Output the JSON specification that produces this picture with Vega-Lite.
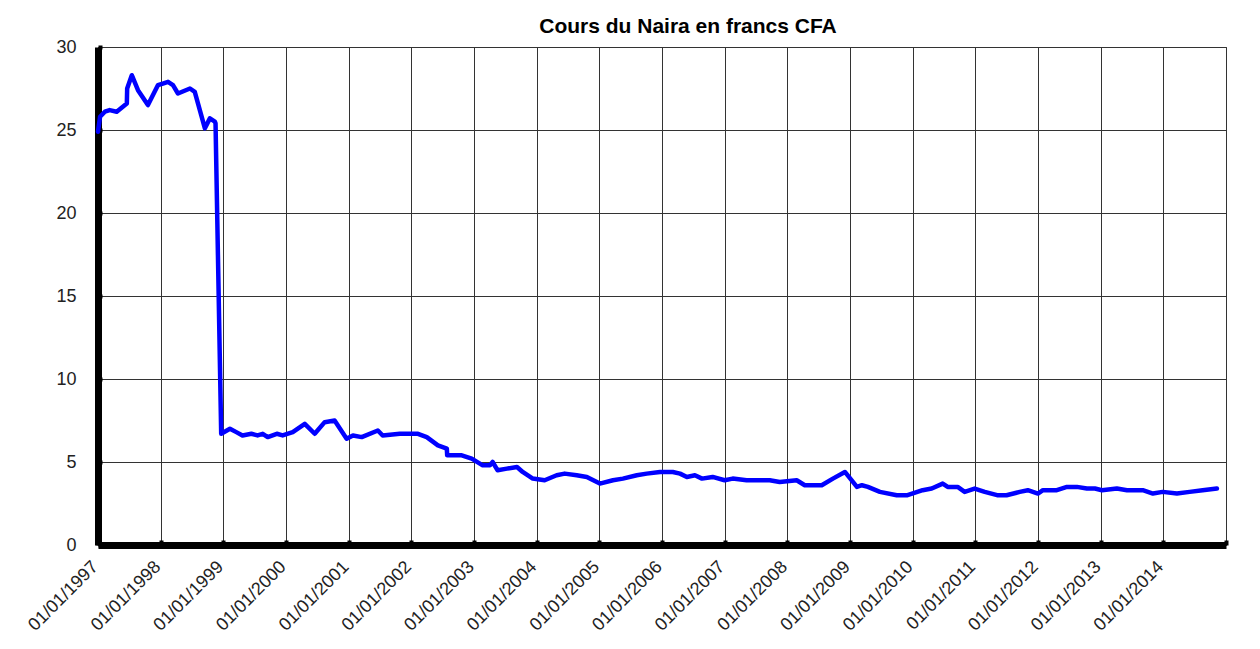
{
  "$schema": "https://vega.github.io/schema/vega-lite/v6.json",
  "autosize": "none",
  "width": 1128,
  "height": 498,
  "padding": {"left": 98, "top": 47, "right": 34, "bottom": 104},
  "background": "white",
  "title": {
    "text": "Cours du Naira en francs CFA",
    "font": "Liberation Sans",
    "fontSize": 21,
    "fontWeight": "bold",
    "color": "#000000",
    "anchor": "middle",
    "dx": 26,
    "offset": 1
  },
  "config": {
    "view": {"stroke": "#444444", "strokeWidth": 1},
    "axis": {
      "labelFont": "Liberation Sans",
      "labelColor": "#222222",
      "gridColor": "#333333",
      "gridWidth": 1,
      "gridOpacity": 1,
      "domainColor": "#000000",
      "tickColor": "#000000"
    }
  },
  "data": {
    "values": [
      {"date": "1997-01-01", "cours": 24.9},
      {"date": "1997-01-13", "cours": 25.8},
      {"date": "1997-02-10", "cours": 26.1},
      {"date": "1997-03-10", "cours": 26.2},
      {"date": "1997-04-20", "cours": 26.1},
      {"date": "1997-06-18", "cours": 26.6},
      {"date": "1997-06-20", "cours": 27.5},
      {"date": "1997-07-17", "cours": 28.3},
      {"date": "1997-08-22", "cours": 27.4},
      {"date": "1997-10-19", "cours": 26.5},
      {"date": "1997-12-16", "cours": 27.7},
      {"date": "1998-01-14", "cours": 27.8},
      {"date": "1998-02-13", "cours": 27.9},
      {"date": "1998-03-14", "cours": 27.7},
      {"date": "1998-04-12", "cours": 27.2},
      {"date": "1998-06-21", "cours": 27.5},
      {"date": "1998-07-19", "cours": 27.3},
      {"date": "1998-09-16", "cours": 25.1},
      {"date": "1998-10-15", "cours": 25.7},
      {"date": "1998-11-13", "cours": 25.5},
      {"date": "1998-11-17", "cours": 25.4},
      {"date": "1998-12-20", "cours": 6.7},
      {"date": "1999-02-09", "cours": 7.0},
      {"date": "1999-03-18", "cours": 6.8},
      {"date": "1999-04-23", "cours": 6.6},
      {"date": "1999-06-14", "cours": 6.7},
      {"date": "1999-07-20", "cours": 6.6},
      {"date": "1999-08-19", "cours": 6.7},
      {"date": "1999-09-17", "cours": 6.5},
      {"date": "1999-11-09", "cours": 6.7},
      {"date": "1999-12-13", "cours": 6.6},
      {"date": "2000-02-10", "cours": 6.8},
      {"date": "2000-04-20", "cours": 7.3},
      {"date": "2000-06-17", "cours": 6.7},
      {"date": "2000-08-14", "cours": 7.4},
      {"date": "2000-10-11", "cours": 7.5},
      {"date": "2000-12-20", "cours": 6.4},
      {"date": "2001-01-26", "cours": 6.6},
      {"date": "2001-03-18", "cours": 6.5},
      {"date": "2001-06-20", "cours": 6.9},
      {"date": "2001-07-18", "cours": 6.6},
      {"date": "2001-10-26", "cours": 6.7},
      {"date": "2002-02-09", "cours": 6.7},
      {"date": "2002-04-01", "cours": 6.5},
      {"date": "2002-06-05", "cours": 6.0},
      {"date": "2002-07-27", "cours": 5.8},
      {"date": "2002-07-29", "cours": 5.4},
      {"date": "2002-10-22", "cours": 5.4},
      {"date": "2002-12-19", "cours": 5.2},
      {"date": "2003-02-21", "cours": 4.8},
      {"date": "2003-04-04", "cours": 4.8},
      {"date": "2003-04-20", "cours": 5.0},
      {"date": "2003-05-19", "cours": 4.5},
      {"date": "2003-07-12", "cours": 4.6},
      {"date": "2003-09-09", "cours": 4.7},
      {"date": "2003-10-12", "cours": 4.4},
      {"date": "2003-12-10", "cours": 4.0},
      {"date": "2004-02-17", "cours": 3.9},
      {"date": "2004-04-27", "cours": 4.2},
      {"date": "2004-06-13", "cours": 4.3},
      {"date": "2004-08-22", "cours": 4.2},
      {"date": "2004-10-20", "cours": 4.1},
      {"date": "2005-01-04", "cours": 3.7},
      {"date": "2005-03-21", "cours": 3.9},
      {"date": "2005-05-18", "cours": 4.0},
      {"date": "2005-08-07", "cours": 4.2},
      {"date": "2005-10-04", "cours": 4.3},
      {"date": "2005-12-20", "cours": 4.4},
      {"date": "2006-03-05", "cours": 4.4},
      {"date": "2006-04-16", "cours": 4.3},
      {"date": "2006-05-26", "cours": 4.1},
      {"date": "2006-07-12", "cours": 4.2},
      {"date": "2006-08-22", "cours": 4.0},
      {"date": "2006-10-23", "cours": 4.1},
      {"date": "2007-01-01", "cours": 3.9},
      {"date": "2007-02-17", "cours": 4.0},
      {"date": "2007-05-09", "cours": 3.9},
      {"date": "2007-07-08", "cours": 3.9},
      {"date": "2007-09-21", "cours": 3.9},
      {"date": "2007-11-18", "cours": 3.8},
      {"date": "2008-02-25", "cours": 3.9},
      {"date": "2008-04-12", "cours": 3.6},
      {"date": "2008-05-29", "cours": 3.6},
      {"date": "2008-07-20", "cours": 3.6},
      {"date": "2008-09-23", "cours": 4.0},
      {"date": "2008-12-02", "cours": 4.4},
      {"date": "2009-02-10", "cours": 3.5},
      {"date": "2009-03-11", "cours": 3.6},
      {"date": "2009-04-15", "cours": 3.5},
      {"date": "2009-06-24", "cours": 3.2},
      {"date": "2009-09-30", "cours": 3.0},
      {"date": "2009-12-02", "cours": 3.0},
      {"date": "2010-02-28", "cours": 3.3},
      {"date": "2010-04-22", "cours": 3.4},
      {"date": "2010-06-25", "cours": 3.7},
      {"date": "2010-07-24", "cours": 3.5},
      {"date": "2010-09-20", "cours": 3.5},
      {"date": "2010-10-31", "cours": 3.2},
      {"date": "2010-12-28", "cours": 3.4},
      {"date": "2011-02-25", "cours": 3.2},
      {"date": "2011-05-08", "cours": 3.0},
      {"date": "2011-07-02", "cours": 3.0},
      {"date": "2011-09-17", "cours": 3.2},
      {"date": "2011-11-03", "cours": 3.3},
      {"date": "2012-01-01", "cours": 3.1},
      {"date": "2012-01-30", "cours": 3.3},
      {"date": "2012-04-20", "cours": 3.3},
      {"date": "2012-06-18", "cours": 3.5},
      {"date": "2012-08-15", "cours": 3.5},
      {"date": "2012-10-12", "cours": 3.4},
      {"date": "2012-11-28", "cours": 3.4},
      {"date": "2013-01-08", "cours": 3.3},
      {"date": "2013-04-05", "cours": 3.4},
      {"date": "2013-06-03", "cours": 3.3},
      {"date": "2013-07-31", "cours": 3.3},
      {"date": "2013-09-03", "cours": 3.3},
      {"date": "2013-11-01", "cours": 3.1},
      {"date": "2013-12-28", "cours": 3.2},
      {"date": "2014-03-21", "cours": 3.1},
      {"date": "2014-06-03", "cours": 3.2},
      {"date": "2014-08-18", "cours": 3.3},
      {"date": "2014-11-09", "cours": 3.4}
    ]
  },
  "mark": {"type": "line", "color": "#0000FF", "strokeWidth": 4.5, "strokeJoin": "round", "strokeCap": "round"},
  "encoding": {
    "x": {
      "field": "date",
      "type": "temporal",
      "title": null,
      "scale": {
        "type": "utc",
        "domain": [
          {"year": 1997, "month": 1, "date": 1, "utc": true},
          {"year": 2015, "month": 1, "date": 1, "utc": true}
        ]
      },
      "axis": {
        "values": [
          {"year": 1997, "month": 1, "date": 1, "utc": true},
          {"year": 1998, "month": 1, "date": 1, "utc": true},
          {"year": 1999, "month": 1, "date": 1, "utc": true},
          {"year": 2000, "month": 1, "date": 1, "utc": true},
          {"year": 2001, "month": 1, "date": 1, "utc": true},
          {"year": 2002, "month": 1, "date": 1, "utc": true},
          {"year": 2003, "month": 1, "date": 1, "utc": true},
          {"year": 2004, "month": 1, "date": 1, "utc": true},
          {"year": 2005, "month": 1, "date": 1, "utc": true},
          {"year": 2006, "month": 1, "date": 1, "utc": true},
          {"year": 2007, "month": 1, "date": 1, "utc": true},
          {"year": 2008, "month": 1, "date": 1, "utc": true},
          {"year": 2009, "month": 1, "date": 1, "utc": true},
          {"year": 2010, "month": 1, "date": 1, "utc": true},
          {"year": 2011, "month": 1, "date": 1, "utc": true},
          {"year": 2012, "month": 1, "date": 1, "utc": true},
          {"year": 2013, "month": 1, "date": 1, "utc": true},
          {"year": 2014, "month": 1, "date": 1, "utc": true},
          {"year": 2015, "month": 1, "date": 1, "utc": true}
        ],
        "format": "%d/%m/%Y",
        "labelExpr": "utcyear(datum.value) >= 2015 ? '' : datum.label",
        "labelAngle": -45,
        "labelAlign": "right",
        "labelBaseline": "middle",
        "labelFontSize": 18,
        "labelPadding": 24,
        "labelOffset": -3,
        "labelOverlap": false,
        "labelFlush": false,
        "grid": true,
        "domainWidth": 7,
        "tickSize": -5,
        "tickWidth": 4,
        "ticks": true
      }
    },
    "y": {
      "field": "cours",
      "type": "quantitative",
      "title": null,
      "scale": {"domain": [0, 30], "nice": false, "zero": true},
      "axis": {
        "values": [0, 5, 10, 15, 20, 25, 30],
        "labelFontSize": 18,
        "labelPadding": 26,
        "grid": true,
        "domainWidth": 7,
        "tickSize": -4,
        "tickWidth": 4,
        "labelFlush": false
      }
    }
  }
}
